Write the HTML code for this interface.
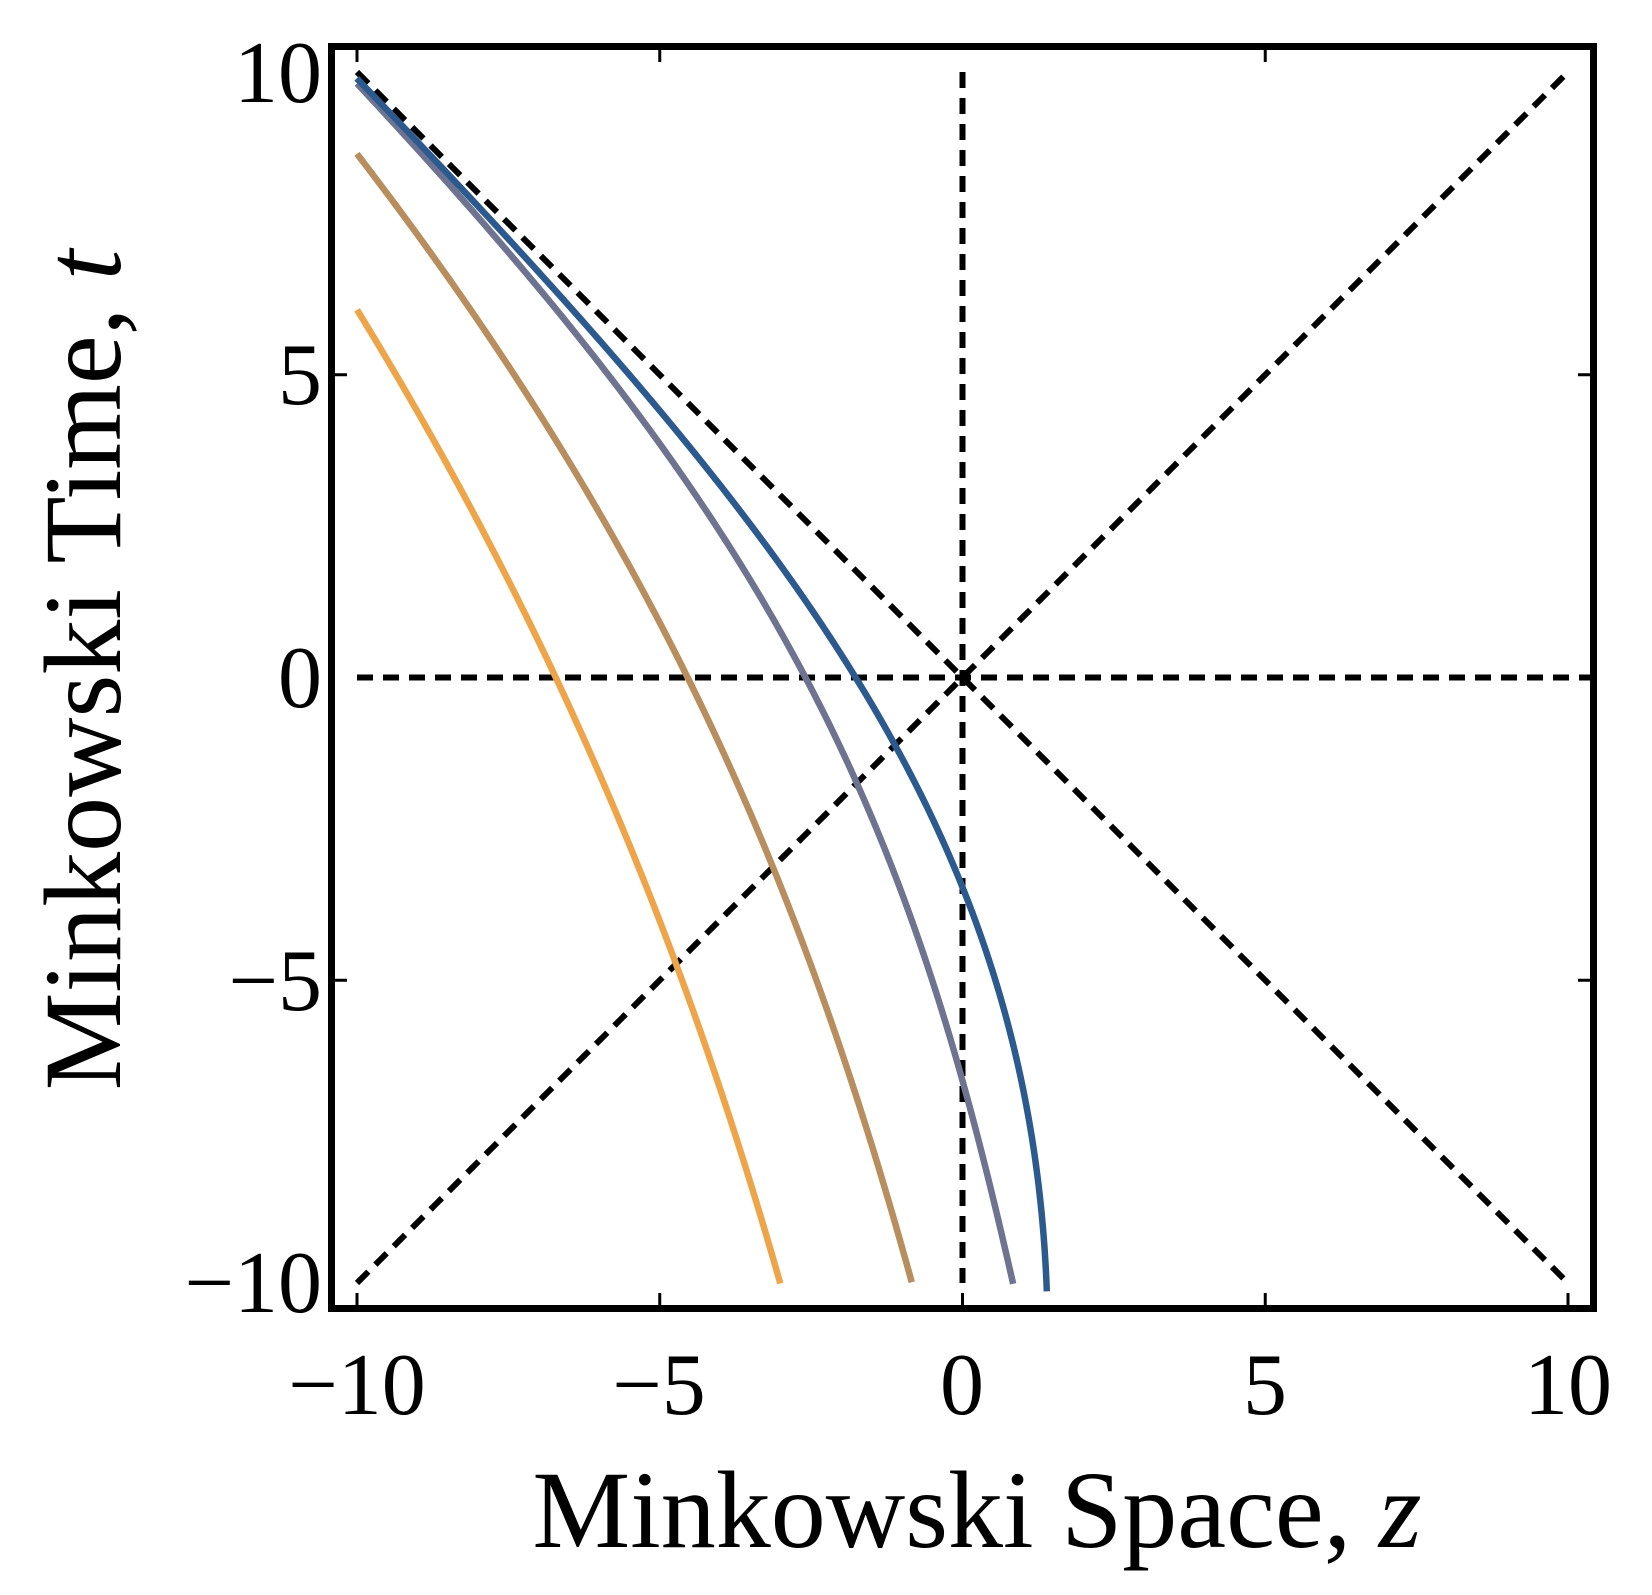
<!DOCTYPE html>
<html><head><meta charset="utf-8"><style>
html,body{margin:0;padding:0;background:#fff;}
svg{display:block;}
text{font-family:"Liberation Serif",serif;fill:#000;}
</style></head><body>
<svg id="s" width="1652" height="1595" viewBox="0 0 1652 1595" xmlns="http://www.w3.org/2000/svg">
<g stroke="#000" stroke-width="6" stroke-dasharray="16,10" fill="none">
<line x1="962.5" y1="72" x2="962.5" y2="1283"/>
<line x1="357" y1="677.5" x2="1590" y2="677.5"/>
<line x1="357" y1="72" x2="1568" y2="1283"/>
<line x1="357" y1="1283" x2="1568" y2="72"/>
</g>
<g id="curves" fill="none" stroke-width="6.5" stroke-linecap="butt" stroke-linejoin="round"></g>
<rect x="331.5" y="46.5" width="1262" height="1262" fill="none" stroke="#000" stroke-width="7"/>
<g stroke="#000" stroke-width="3">
<line x1="357" y1="50" x2="357" y2="62"/><line x1="659.75" y1="50" x2="659.75" y2="62"/><line x1="1265.25" y1="50" x2="1265.25" y2="62"/>
<line x1="357" y1="1305" x2="357" y2="1293"/><line x1="659.75" y1="1305" x2="659.75" y2="1293"/><line x1="962.5" y1="1305" x2="962.5" y2="1293"/><line x1="1265.25" y1="1305" x2="1265.25" y2="1293"/><line x1="1568" y1="1305" x2="1568" y2="1293"/>
<line x1="335" y1="374.75" x2="347" y2="374.75"/><line x1="335" y1="980.25" x2="347" y2="980.25"/>
<line x1="1590" y1="374.75" x2="1578" y2="374.75"/><line x1="1590" y1="980.25" x2="1578" y2="980.25"/>
</g>
<g font-size="88" text-anchor="end">
<text x="322" y="102">10</text>
<text x="322" y="404">5</text>
<text x="322" y="707">0</text>
<text x="322" y="1010">−5</text>
<text x="322" y="1312">−10</text>
</g>
<g font-size="88" text-anchor="middle">
<text x="357" y="1414">−10</text>
<text x="659" y="1414">−5</text>
<text x="962" y="1414">0</text>
<text x="1265" y="1414">5</text>
<text x="1568" y="1414">10</text>
</g>
<text x="977" y="1547" font-size="110" text-anchor="middle">Minkowski Space, <tspan font-style="italic">z</tspan></text>
<text transform="translate(120,670) rotate(-90)" font-size="110" text-anchor="middle">Minkowski Time, <tspan font-style="italic">t</tspan></text>
</svg>
<script>
var data=[
 ["#eea54a",[[16.07,-3.93],[6.7,-6.7],[0,-9.5],[-7,-13]],16.07,-7],
 ["#b98e5e",[[18.65,-1.35],[4.57,-4.57],[0,-6.2],[-9.15,-10.85]],18.65,-9.15],
 ["#6e7490",[[19.81,-0.19],[2.57,-2.57],[0,-3.53],[-6.7,-6.7],[-10.85,-9.15]],19.81,-10.85],
 ["#2c5a8f",[[15,-0.25],[1.67,-1.67],[0,-2.2],[-4.2,-4.2],[-11.53,-8.47]],19.9,-11.53]
];
function X(z){return 962.5+60.55*z;}function Y(t){return 677.5-60.55*t;}
function fit(pts,deg){var n=deg+1,A=[],b=[];for(var i=0;i<n;i++){A.push(new Array(n).fill(0));b.push(0);}
 pts.forEach(function(p){var x=p[0]/10,y=Math.log(-p[1]);for(var i=0;i<n;i++){b[i]+=y*Math.pow(x,i);for(var j=0;j<n;j++)A[i][j]+=Math.pow(x,i+j);}});
 for(var i=0;i<n;i++){var m=i;for(var k=i+1;k<n;k++)if(Math.abs(A[k][i])>Math.abs(A[m][i]))m=k;var tmp=A[i];A[i]=A[m];A[m]=tmp;tmp=b[i];b[i]=b[m];b[m]=tmp;
  for(var k=i+1;k<n;k++){var f=A[k][i]/A[i][i];for(var j=i;j<n;j++)A[k][j]-=f*A[i][j];b[k]-=f*b[i];}}
 var c=new Array(n);for(var i=n-1;i>=0;i--){var s=b[i];for(var j=i+1;j<n;j++)s-=A[i][j]*c[j];c[i]=s/A[i][i];}return c;}
var g=document.getElementById('curves');
data.forEach(function(d){
 var c=fit(d[1],2),v0=d[2],v1=d[3],s="";
 for(var k=0;k<=160;k++){var v=v0+(v1-v0)*k/160,x=v/10,l=0;for(var i=0;i<c.length;i++)l+=c[i]*Math.pow(x,i);
  var u=-Math.exp(l),t=(u+v)/2,z=(u-v)/2;
  s+=(k?" L":"M")+X(z).toFixed(2)+","+Y(t).toFixed(2);}
 var e=document.createElementNS("http://www.w3.org/2000/svg","path");
 e.setAttribute("d",s);e.setAttribute("stroke",d[0]);g.appendChild(e);
});
</script>
</body></html>
